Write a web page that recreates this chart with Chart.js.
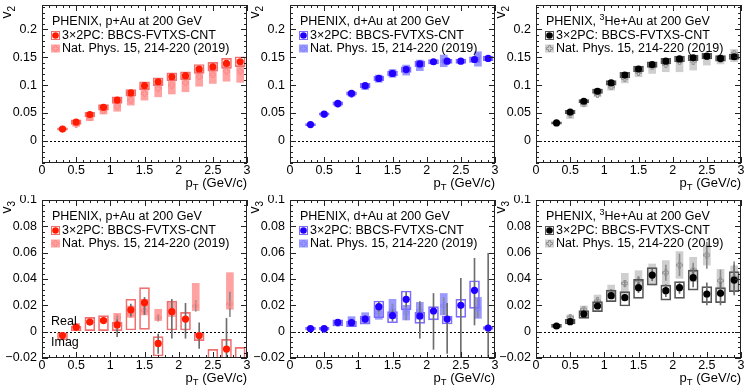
<!DOCTYPE html>
<html>
<head>
<meta charset="utf-8">
<script src="https://cdn.jsdelivr.net/npm/chart.js@4.4.1/dist/chart.umd.min.js"></script>
<style>
  html, body { margin: 0; padding: 0; background: #fff; }
  #wrap { position: relative; width: 747px; height: 390px; overflow: hidden; }
  #wrap canvas { position: absolute; }
</style>
</head>
<body>
<div id="wrap"></div>
<script>
// pT bins (GeV/c)
const PT = [0.3, 0.5, 0.7, 0.9, 1.1, 1.3, 1.5, 1.7, 1.9, 2.1, 2.3, 2.5, 2.7, 2.9];
const PT_NAT = [0.5, 0.7, 0.9, 1.1, 1.3, 1.5, 1.7, 1.9, 2.1, 2.3, 2.5, 2.7, 2.9];
const PT_NAT_WIDE = [0.5, 0.7, 0.9, 1.1, 1.3, 1.5, 1.7, 1.9, 2.25, 2.75];

// ---- v2, 3x2PC (value, +-sys)
const pAuV2 = [0.021, 0.0335, 0.047, 0.060, 0.073, 0.086, 0.099, 0.106, 0.115, 0.117, 0.129, 0.133, 0.139, 0.142];
const pAuV2Sys = [0.002, 0.004, 0.004, 0.005, 0.006, 0.006, 0.007, 0.007, 0.007, 0.007, 0.008, 0.008, 0.009, 0.009];
const dAuV2 = [0.029, 0.048, 0.067, 0.085, 0.099, 0.112, 0.121, 0.128, 0.138, 0.142, 0.143, 0.143, 0.146, 0.148];
const dAuV2Sys = [0.002, 0.002, 0.003, 0.003, 0.004, 0.004, 0.004, 0.005, 0.005, 0.004, 0.004, 0.004, 0.005, 0.004];
const heAuV2 = [0.032, 0.0515, 0.071, 0.089, 0.104, 0.118, 0.129, 0.137, 0.143, 0.147, 0.149, 0.152, 0.148, 0.151];
const heAuV2Sys = [0.002, 0.003, 0.003, 0.004, 0.004, 0.005, 0.005, 0.005, 0.005, 0.005, 0.005, 0.005, 0.005, 0.005];

// ---- v2, Nat. Phys. 2019 (value, sys box low/high)
const natPAuV2 = [0.030, 0.041, 0.054, 0.062, 0.073, 0.085, 0.094, 0.100, 0.104, 0.115, 0.119, 0.125, 0.125];
const natPAuV2Lo = [0.026, 0.036, 0.048, 0.053, 0.064, 0.073, 0.079, 0.084, 0.088, 0.098, 0.103, 0.107, 0.105];
const natPAuV2Hi = [0.034, 0.046, 0.062, 0.070, 0.082, 0.094, 0.103, 0.109, 0.114, 0.127, 0.130, 0.136, 0.136];
const natDAuV2 = [0.047, 0.066, 0.084, 0.097, 0.111, 0.121, 0.127, 0.135, 0.143, 0.151];
const natDAuV2Lo = [0.044, 0.062, 0.080, 0.092, 0.105, 0.114, 0.118, 0.126, 0.133, 0.134];
const natDAuV2Hi = [0.050, 0.070, 0.088, 0.102, 0.118, 0.128, 0.136, 0.145, 0.154, 0.160];
const natHeAuV2 = [0.048, 0.067, 0.083, 0.097, 0.112, 0.123, 0.133, 0.137, 0.142, 0.143, 0.151, 0.146, 0.157];
const natHeAuV2Lo = [0.040, 0.061, 0.079, 0.091, 0.104, 0.115, 0.121, 0.124, 0.124, 0.127, 0.136, 0.138, 0.142];
const natHeAuV2Hi = [0.052, 0.073, 0.094, 0.106, 0.121, 0.133, 0.140, 0.145, 0.148, 0.151, 0.157, 0.154, 0.164];

// ---- v3, 3x2PC (value, sys box low/high, stat low/high)
const pAuV3 = [-0.003, 0.0033, 0.0073, 0.0084, 0.0051, 0.0165, 0.022, -0.0089, 0.0152, 0.0096, -0.003, -0.025, -0.0132, -0.028];
const pAuV3BoxLo = [-0.0063, 0.0005, 0.0008, 0.0008, 0.0008, 0.0013, 0.0018, -0.0185, 0.0013, 0.0013, -0.0068, -0.0215, -0.0215, -0.0215];
const pAuV3BoxHi = [-0.0008, 0.0043, 0.0109, 0.0122, 0.0071, 0.0246, 0.0334, -0.0038, 0.0233, 0.0147, -0.0013, -0.0134, -0.0058, -0.0119];
const pAuV3StatLo = [-0.004, 0.0025, 0.0063, 0.0074, -0.0038, 0.012, 0.0132, -0.0165, -0.005, -0.005, -0.0127, -0.032, -0.04, -0.04];
const pAuV3StatHi = [-0.002, 0.0041, 0.0083, 0.0094, 0.0089, 0.021, 0.026, -0.0018, 0.0246, 0.0215, 0.0068, -0.022, 0.0101, -0.022];
const dAuV3 = [0.0023, 0.0023, 0.0071, 0.0068, 0.0096, 0.019, 0.0122, 0.0246, 0.0119, 0.0157, 0.0096, 0.020, 0.0314, 0.0028];
const dAuV3BoxLo = [0.0013, 0.0013, 0.0043, 0.0038, 0.0056, 0.0106, 0.0068, 0.0165, 0.0063, 0.0089, 0.0058, 0.0109, 0.0177, 0.0018];
const dAuV3BoxHi = [0.0033, 0.0033, 0.0089, 0.0081, 0.0119, 0.0233, 0.0152, 0.0309, 0.0147, 0.019, 0.0119, 0.0246, 0.0387, 0.0038];
const dAuV3StatLo = [0.001, 0.001, 0.0055, 0.005, 0.007, 0.0155, 0.008, 0.019, -0.005, -0.0134, -0.0165, -0.025, 0.0051, -0.06];
const dAuV3StatHi = [0.0036, 0.0036, 0.0087, 0.0086, 0.012, 0.0225, 0.0165, 0.030, 0.0228, 0.029, 0.0215, 0.0405, 0.0557, 0.0595];
const heAuV3 = [0.0043, 0.0076, 0.0134, 0.0195, 0.0273, 0.0258, 0.0334, 0.043, 0.0311, 0.0334, 0.041, 0.0286, 0.0291, 0.0392];
const heAuV3BoxLo = [0.0033, 0.0058, 0.0101, 0.0152, 0.0228, 0.0195, 0.0253, 0.0354, 0.024, 0.0253, 0.0316, 0.022, 0.022, 0.0304];
const heAuV3BoxHi = [0.0056, 0.0094, 0.016, 0.0228, 0.0316, 0.0304, 0.0397, 0.0486, 0.0354, 0.038, 0.0468, 0.0342, 0.0334, 0.0456];
const heAuV3StatLo = [0.0038, 0.0068, 0.0122, 0.018, 0.0255, 0.0238, 0.0296, 0.0387, 0.0266, 0.029, 0.034, 0.0203, 0.0203, 0.028];
const heAuV3StatHi = [0.0048, 0.0084, 0.0146, 0.021, 0.029, 0.0278, 0.0372, 0.0473, 0.0357, 0.0378, 0.048, 0.037, 0.0375, 0.0506];

// ---- v3, Nat. Phys. 2019 (value, sys box low/high, stat low/high)
const natPAuV3 = [0.004, 0.0075, 0.0088, 0.0106, 0.0132, 0.016, 0.0106, 0.0156, 0.0195, 0.021];
const natPAuV3Lo = [0.0018, 0.0065, 0.0078, 0.0076, 0.0109, 0.0127, 0.0084, 0.0114, 0.016, 0.017];
const natPAuV3Hi = [0.0063, 0.0085, 0.0098, 0.0139, 0.0195, 0.0246, 0.017, 0.0228, 0.0367, 0.0448];
const natPAuV3StatLo = [0.003, 0.007, 0.008, 0.009, 0.0115, 0.013, 0.008, 0.012, 0.0155, 0.0114];
const natPAuV3StatHi = [0.005, 0.008, 0.0096, 0.0122, 0.015, 0.019, 0.0132, 0.0192, 0.0235, 0.030];
const natDAuV3 = [0.002, 0.006, 0.008, 0.0096, 0.0144, 0.0165, 0.0144, 0.016, 0.0197, 0.0177];
const natDAuV3Lo = [0.001, 0.0045, 0.005, 0.0063, 0.0094, 0.0101, 0.0089, 0.0096, 0.0127, 0.0101];
const natDAuV3Hi = [0.003, 0.0075, 0.0114, 0.0144, 0.020, 0.0246, 0.020, 0.0223, 0.029, 0.026];
const natDAuV3StatLo = [0.0015, 0.005, 0.0065, 0.007, 0.011, 0.012, 0.009, 0.011, 0.013, 0.011];
const natDAuV3StatHi = [0.0025, 0.007, 0.0095, 0.012, 0.018, 0.021, 0.0195, 0.021, 0.026, 0.025];
const natHeAuV3 = [0.0109, 0.017, 0.0233, 0.030, 0.0367, 0.0387, 0.043, 0.0448, 0.0506, 0.0468, 0.0582, 0.0387, 0.041];
const natHeAuV3Lo = [0.0089, 0.0144, 0.019, 0.0253, 0.0278, 0.033, 0.0354, 0.0354, 0.0405, 0.038, 0.0506, 0.0316, 0.0304];
const natHeAuV3Hi = [0.0127, 0.0195, 0.0278, 0.0354, 0.0443, 0.0463, 0.0514, 0.054, 0.0608, 0.0565, 0.0658, 0.0473, 0.0499];
const natHeAuV3StatLo = [0.010, 0.016, 0.022, 0.028, 0.034, 0.036, 0.040, 0.039, 0.0425, 0.0415, 0.048, 0.0307, 0.0296];
const natHeAuV3StatHi = [0.012, 0.018, 0.0245, 0.032, 0.039, 0.042, 0.046, 0.0505, 0.059, 0.052, 0.068, 0.0468, 0.053];

// axis ranges / tick steps
const V2_RANGE = [-0.04, 0.244], V2_STEP = 0.05;
const V3_RANGE = [-0.02, 0.1], V3_STEP = 0.02;
const PT_RANGE = [0, 3], PT_STEP = 0.5;

const FONT = "'Liberation Sans', Arial, Helvetica, sans-serif";
const RED = { mark: '#ff1a00', box: '#f07070', fill: 'rgba(255,70,70,0.5)', nat: '#ff8a8a' };
const BLUE = { mark: '#2200ff', box: '#7c6cff', fill: 'rgba(70,70,255,0.55)', nat: '#8585ff' };
const BLACK = { mark: '#000', box: '#555', fill: '#cfcfcf', nat: '#909090' };

const panels = [
  { col: 0, row: 0, sys: 'p+Au', n: 2, c: RED, a: { y: pAuV2, sys: pAuV2Sys }, b: { x: PT_NAT, y: natPAuV2, lo: natPAuV2Lo, hi: natPAuV2Hi } },
  { col: 1, row: 0, sys: 'd+Au', n: 2, c: BLUE, a: { y: dAuV2, sys: dAuV2Sys }, b: { x: PT_NAT_WIDE, y: natDAuV2, lo: natDAuV2Lo, hi: natDAuV2Hi } },
  { col: 2, row: 0, sys: 'He+Au', sup: true, n: 2, c: BLACK, a: { y: heAuV2, sys: heAuV2Sys }, b: { x: PT_NAT, y: natHeAuV2, lo: natHeAuV2Lo, hi: natHeAuV2Hi } },
  { col: 0, row: 1, sys: 'p+Au', n: 3, c: RED, realImag: true,
    a: { y: pAuV3, lo: pAuV3BoxLo, hi: pAuV3BoxHi, sLo: pAuV3StatLo, sHi: pAuV3StatHi },
    b: { x: PT_NAT_WIDE, y: natPAuV3, lo: natPAuV3Lo, hi: natPAuV3Hi, sLo: natPAuV3StatLo, sHi: natPAuV3StatHi } },
  { col: 1, row: 1, sys: 'd+Au', n: 3, c: BLUE,
    a: { y: dAuV3, lo: dAuV3BoxLo, hi: dAuV3BoxHi, sLo: dAuV3StatLo, sHi: dAuV3StatHi },
    b: { x: PT_NAT_WIDE, y: natDAuV3, lo: natDAuV3Lo, hi: natDAuV3Hi, sLo: natDAuV3StatLo, sHi: natDAuV3StatHi } },
  { col: 2, row: 1, sys: 'He+Au', sup: true, n: 3, c: BLACK,
    a: { y: heAuV3, lo: heAuV3BoxLo, hi: heAuV3BoxHi, sLo: heAuV3StatLo, sHi: heAuV3StatHi },
    b: { x: PT_NAT, y: natHeAuV3, lo: natHeAuV3Lo, hi: natHeAuV3Hi, sLo: natHeAuV3StatLo, sHi: natHeAuV3StatHi } },
];

// canvas placement: plot area is x 42..247 / y 5..163 inside each canvas
const COLS = [{ left: 0, w: 256, padR: 9 }, { left: 248, w: 256, padR: 9 }, { left: 494, w: 253, padR: 6 }];
const ROW_H = 195;

/** ROOT-style open cross marker as a small canvas (used as pointStyle). */
function openCross(color) {
  const c = document.createElement('canvas'); c.width = 7; c.height = 7;
  const g = c.getContext('2d');
  const p = [[2.5, 0.5], [4.5, 0.5], [4.5, 2.5], [6.5, 2.5], [6.5, 4.5], [4.5, 4.5], [4.5, 6.5], [2.5, 6.5], [2.5, 4.5], [0.5, 4.5], [0.5, 2.5], [2.5, 2.5]];
  g.strokeStyle = color; g.lineWidth = 1; g.beginPath();
  p.forEach(([x, y], i) => (i ? g.lineTo(x, y) : g.moveTo(x, y)));
  g.closePath(); g.stroke();
  return c;
}

const pts = (xs, ys) => xs.map((x, i) => ({ x, y: ys[i] }));
const spans = (xs, lo, hi) => xs.map((x, i) => ({ x, y: [lo[i], hi[i]] }));
const fmt = (v) => String(+v.toFixed(3)).replace('-', '\u2212');

function drawTicks(ctx, s, a, minor, major, horiz) {
  const k0 = Math.ceil(s.min / minor - 1e-6), k1 = Math.floor(s.max / minor + 1e-6);
  for (let k = k0; k <= k1; k++) {
    const v = k * minor;
    const len = Math.abs(v / major - Math.round(v / major)) < 1e-6 ? 6 : 3;
    const p = Math.round(s.getPixelForValue(v)) + 0.5;
    if (horiz) { ctx.moveTo(p, a.bottom); ctx.lineTo(p, a.bottom - len); ctx.moveTo(p, a.top); ctx.lineTo(p, a.top + len); }
    else { ctx.moveTo(a.left, p); ctx.lineTo(a.left + len, p); ctx.moveTo(a.right, p); ctx.lineTo(a.right - len, p); }
  }
}

function rootDecor(p, cross) {
  return {
    id: 'rootDecor',
    beforeDatasetsDraw(chart) {
      const { ctx, chartArea: a, scales: { y } } = chart;
      const y0 = Math.round(y.getPixelForValue(0)) + 0.5;
      ctx.save(); ctx.strokeStyle = '#000'; ctx.lineWidth = 1; ctx.setLineDash([2, 2]);
      ctx.beginPath(); ctx.moveTo(a.left, y0); ctx.lineTo(a.right, y0); ctx.stroke(); ctx.restore();
    },
    afterDraw(chart) {
      const { ctx, chartArea: a, scales: { x, y } } = chart;
      ctx.save();
      // frame + inward ticks on all four sides
      ctx.strokeStyle = '#222'; ctx.lineWidth = 1;
      ctx.strokeRect(Math.round(a.left) + 0.5, Math.round(a.top) + 0.5, Math.round(a.width) - 1, Math.round(a.height) - 1);
      ctx.beginPath();
      drawTicks(ctx, x, a, PT_STEP / 5, PT_STEP, true);
      const st = p.n === 2 ? V2_STEP : V3_STEP;
      drawTicks(ctx, y, a, st / 5, st, false);
      ctx.stroke();

      // legend block
      const L = a.left, T = a.top;
      ctx.fillStyle = '#000'; ctx.textBaseline = 'middle'; ctx.textAlign = 'left';
      ctx.font = `12.5px ${FONT}`;
      if (p.sup) {
        let tx = L + 10;
        ctx.fillText('PHENIX, ', tx, T + 17); tx += ctx.measureText('PHENIX, ').width;
        ctx.font = `9px ${FONT}`; ctx.fillText('3', tx, T + 13); tx += ctx.measureText('3').width;
        ctx.font = `12.5px ${FONT}`; ctx.fillText(p.sys + ' at 200 GeV', tx, T + 17);
      } else ctx.fillText(`PHENIX, ${p.sys} at 200 GeV`, L + 10, T + 17);
      ctx.strokeStyle = p.c.box; ctx.strokeRect(L + 9.5, T + 26.5, 8, 8);
      ctx.fillStyle = p.c.mark; ctx.beginPath(); ctx.arc(L + 13.5, T + 30.5, 3.3, 0, Math.PI * 2); ctx.fill();
      ctx.fillStyle = p.c.fill; ctx.fillRect(L + 9, T + 39.5, 9, 8);
      ctx.drawImage(cross, L + 10, T + 40);
      ctx.fillStyle = '#000';
      ctx.fillText('3\u00d72PC: BBCS-FVTXS-CNT', L + 20, T + 30.5);
      ctx.fillText('Nat. Phys. 15, 214-220 (2019)', L + 20, T + 43.5);

      if (p.realImag) {
        const y0 = y.getPixelForValue(0);
        ctx.fillText('Real', L + 9, y0 - 10.5);
        ctx.fillText('Imag', L + 9, y0 + 10.5);
      }

      // x title: p_T (GeV/c), right aligned
      const ty = a.bottom + 20.5;
      ctx.font = `13px ${FONT}`;
      const wRest = ctx.measureText(' (GeV/c)').width, wP = ctx.measureText('p').width;
      ctx.font = `9.5px ${FONT}`; const wT = ctx.measureText('T').width;
      let tx = a.right - wRest - wT - wP;
      ctx.font = `13px ${FONT}`; ctx.fillText('p', tx, ty); tx += wP;
      ctx.font = `9.5px ${FONT}`; ctx.fillText('T', tx, ty + 4); tx += wT;
      ctx.font = `13px ${FONT}`; ctx.fillText(' (GeV/c)', tx, ty);

      // y title: v_n, rotated, ending at top of frame
      ctx.translate(a.left - 34, a.top); ctx.rotate(-Math.PI / 2);
      ctx.font = `14px ${FONT}`; const wv = ctx.measureText('v').width;
      ctx.font = `10px ${FONT}`; const wn = ctx.measureText(String(p.n)).width;
      ctx.font = `14px ${FONT}`; ctx.fillText('v', -(wv + wn) - 1, -1);
      ctx.font = `10px ${FONT}`; ctx.fillText(String(p.n), -wn - 1, 4);
      ctx.restore();
    },
  };
}

function makeChart(p) {
  const col = COLS[p.col];
  const cv = document.createElement('canvas');
  cv.width = col.w; cv.height = ROW_H;
  cv.style.left = col.left + 'px'; cv.style.top = (p.row * ROW_H) + 'px';
  document.getElementById('wrap').appendChild(cv);

  const cross = openCross(p.c.nat);
  const aLo = p.a.lo || p.a.y.map((v, i) => v - p.a.sys[i]);
  const aHi = p.a.hi || p.a.y.map((v, i) => v + p.a.sys[i]);
  const bar = { type: 'bar', grouped: false, borderSkipped: false, clip: 0 };
  const datasets = [
    { ...bar, label: 'nat sys', order: 6, data: spans(p.b.x, p.b.lo, p.b.hi), backgroundColor: p.c.fill, borderWidth: 0, barThickness: 7 },
  ];
  if (p.b.sLo) datasets.push({ ...bar, label: 'nat stat', order: 5, data: spans(p.b.x, p.b.sLo, p.b.sHi), backgroundColor: '#8c8c8c', borderWidth: 0, barThickness: 1 });
  datasets.push({ type: 'scatter', label: 'Nat. Phys.', order: 4, clip: 0, data: pts(p.b.x, p.b.y), pointStyle: cross, pointRadius: 4, pointHoverRadius: 4 });
  datasets.push({ ...bar, label: '3x2PC sys', order: 3, data: spans(PT, aLo, aHi), backgroundColor: 'rgba(0,0,0,0)', borderColor: p.c.box, borderWidth: 1, barThickness: 10 });
  if (p.a.sLo) datasets.push({ ...bar, label: '3x2PC stat', order: 2, data: spans(PT, p.a.sLo, p.a.sHi), backgroundColor: '#6e6e6e', borderWidth: 0, barThickness: 1 });
  datasets.push({ type: 'scatter', label: '3x2PC', order: 1, clip: 0, data: pts(PT, p.a.y), pointStyle: 'circle', pointRadius: 3.6, pointHoverRadius: 3.6, backgroundColor: p.c.mark, borderWidth: 0 });

  const range = p.n === 2 ? V2_RANGE : V3_RANGE;
  return new Chart(cv, {
    type: 'scatter',
    data: { datasets },
    options: {
      responsive: false, animation: false, devicePixelRatio: 1,
      layout: { padding: { left: 0, right: col.padR, top: 5, bottom: 0 } },
      plugins: { legend: { display: false }, tooltip: { enabled: false } },
      scales: {
        x: {
          type: 'linear', min: PT_RANGE[0], max: PT_RANGE[1], offset: false,
          grid: { display: false, drawTicks: false }, border: { display: false },
          ticks: { stepSize: PT_STEP, autoSkip: false, maxRotation: 0, padding: 0, color: '#000', font: { size: 12.5, family: FONT }, callback: fmt },
          afterFit: (s) => { s.height = 32; s.paddingLeft = 0; s.paddingRight = 0; },
        },
        y: {
          type: 'linear', min: range[0], max: range[1],
          grid: { display: false, drawTicks: false }, border: { display: false },
          ticks: { stepSize: p.n === 2 ? V2_STEP : V3_STEP, includeBounds: false, autoSkip: false, padding: 5, color: '#000', font: { size: 12.5, family: FONT }, callback: fmt },
          afterFit: (s) => { s.width = 42; s.paddingTop = 0; s.paddingBottom = 0; },
        },
      },
    },
    plugins: [rootDecor(p, cross)],
  });
}

panels.forEach(makeChart);
</script>
</body>
</html>
